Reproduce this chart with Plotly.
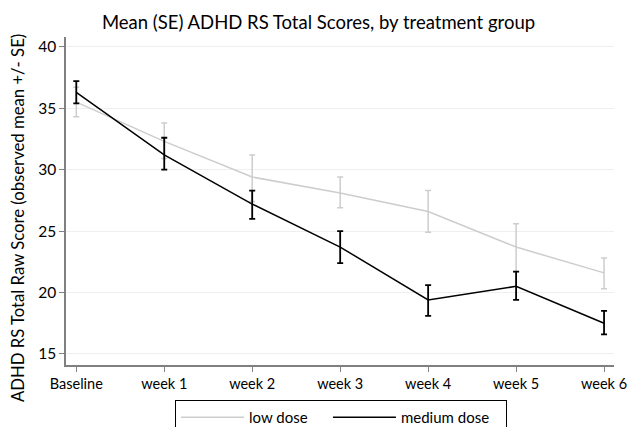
import plotly.graph_objects as go

categories = ["Baseline", "week 1", "week 2", "week 3", "week 4", "week 5", "week 6"]
series_names = ["low dose", "medium dose"]
low_mean = [35.5, 32.3, 29.4, 28.1, 26.6, 23.7, 21.6]
low_upper = [36.7, 33.8, 31.2, 29.4, 28.3, 25.6, 22.8]
low_lower = [34.3, 30.9, 27.4, 26.9, 24.9, 21.7, 20.3]
med_mean = [36.3, 31.2, 27.2, 23.7, 19.4, 20.5, 17.5]
med_upper = [37.2, 32.6, 28.3, 25.0, 20.6, 21.7, 18.5]
med_lower = [35.4, 30.0, 26.0, 22.4, 18.1, 19.4, 16.6]

LOW_COL = "#cdcdcd"
MED_COL = "#000000"
FONT = "Lato"
NB = "\u00a0"

def err(mean, up, lo):
    return dict(type="data", symmetric=False,
                array=[u - m for u, m in zip(up, mean)],
                arrayminus=[m - l for m, l in zip(mean, lo)])

fig = go.Figure()
fig.add_trace(go.Scatter(x=categories, y=low_mean, mode="lines", name=series_names[0] + NB * 4,
                         line=dict(color=LOW_COL, width=1.5),
                         error_y=dict(**err(low_mean, low_upper, low_lower), color=LOW_COL, thickness=1.5, width=3)))
fig.add_trace(go.Scatter(x=categories, y=med_mean, mode="lines", name=series_names[1] + NB * 3,
                         line=dict(color=MED_COL, width=1.5),
                         error_y=dict(**err(med_mean, med_upper, med_lower), color=MED_COL, thickness=1.8, width=3)))

L, R, T, B = 66, 14, 37, 62
W, H = 628, 427
plot_w = W - L - R
plot_h = H - T - B

fig.update_layout(
    width=W, height=H,
    margin=dict(l=L, r=R, t=T, b=B),
    paper_bgcolor="white", plot_bgcolor="white",
    font=dict(family=FONT, size=14, color="black"),
    title=dict(text="Mean (SE) ADHD RS Total Scores, by treatment group",
               x=318.5 / W, xref="container", xanchor="center",
               y=1 - 22.5 / H, yref="container", yanchor="middle",
               font=dict(size=18.5, color="black", family=FONT)),
    showlegend=True,
    legend=dict(orientation="h", x=175 / W, xref="container", xanchor="left",
                y=1 - 400 / H, yref="container", yanchor="top",
                bordercolor="black", borderwidth=1, itemwidth=63,
                font=dict(size=15, color="black"), bgcolor="white"),
    annotations=[dict(text="ADHD RS Total Raw Score (observed mean +/- SE)",
                      textangle=-90, showarrow=False,
                      x=(18 - L) / plot_w, xref="paper",
                      y=(H - B - 218) / plot_h, yref="paper",
                      xanchor="center", yanchor="middle",
                      font=dict(size=16.7, color="black", family=FONT))],
)

fig.update_xaxes(type="category", range=[-0.117, 6.113], showgrid=False, automargin=False,
                 showline=True, linecolor="#808080", linewidth=1.5,
                 ticks="outside", ticklen=5, tickcolor="#808080",
                 tickfont=dict(size=14.5))
fig.update_yaxes(range=[14.1, 40.8], tickvals=[15, 20, 25, 30, 35, 40], automargin=False,
                 showgrid=True, gridcolor="#efefef", gridwidth=1, zeroline=False,
                 showline=True, linecolor="#808080", linewidth=1.5,
                 ticks="outside", ticklen=5, tickcolor="#808080",
                 tickfont=dict(size=15.5))

fig.write_html("out.html", config={"displayModeBar": False},
               post_script="document.body.style.margin='0';document.body.style.overflow='hidden';")
